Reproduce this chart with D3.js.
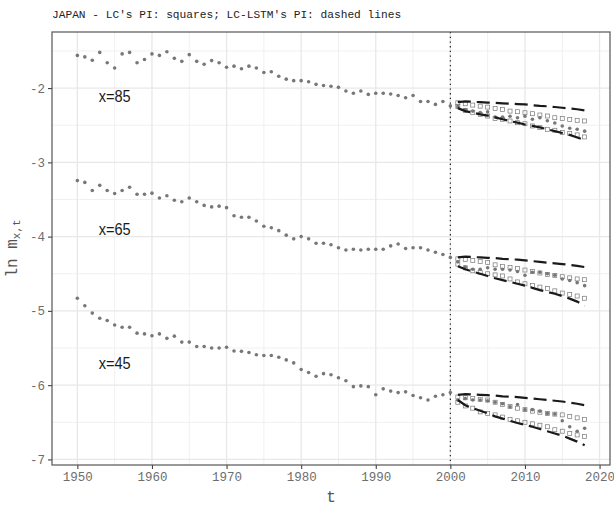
<!DOCTYPE html>
<html>
<head>
<meta charset="utf-8">
<script src="https://cdn.jsdelivr.net/npm/d3@7"></script>
<style>
  body { margin: 0; background: #fff; }
  svg { display: block; }
  .mono { font-family: "Liberation Mono", "DejaVu Sans Mono", monospace; }
</style>
</head>
<body>
<div id="chart"></div>
<script>
// observed years and forecast years
const obsYears = d3.range(1950, 2019);
const fcYears = d3.range(2001, 2019);

// ln m(x,t), 1950-2018
const obs85 = [-1.56, -1.58, -1.625, -1.52, -1.66, -1.73, -1.54, -1.52, -1.66, -1.615,
  -1.54, -1.56, -1.51, -1.60, -1.64, -1.55, -1.64, -1.68, -1.63, -1.66,
  -1.72, -1.705, -1.74, -1.705, -1.73, -1.79, -1.78, -1.84, -1.88, -1.90,
  -1.90, -1.915, -1.95, -1.965, -1.975, -1.99, -2.04, -2.07, -2.04, -2.085,
  -2.07, -2.07, -2.08, -2.10, -2.13, -2.10, -2.18, -2.18, -2.22, -2.18, -2.24,
  -2.25, -2.29, -2.31, -2.33, -2.32, -2.39, -2.39, -2.38, -2.40, -2.38,
  -2.42, -2.40, -2.44, -2.47, -2.51, -2.54, -2.555, -2.58];
const obs65 = [-3.246, -3.27, -3.38, -3.31, -3.38, -3.42, -3.38, -3.335, -3.43, -3.43,
  -3.415, -3.48, -3.45, -3.51, -3.53, -3.48, -3.53, -3.58, -3.60, -3.59,
  -3.61, -3.72, -3.74, -3.74, -3.79, -3.86, -3.88, -3.92, -3.98, -4.03,
  -4.00, -4.03, -4.09, -4.09, -4.11, -4.15, -4.18, -4.17, -4.18, -4.17,
  -4.17, -4.17, -4.125, -4.10, -4.16, -4.15, -4.15, -4.18, -4.21, -4.24, -4.28,
  -4.34, -4.41, -4.44, -4.44, -4.42, -4.44, -4.44, -4.45, -4.47, -4.52,
  -4.48, -4.48, -4.50, -4.52, -4.57, -4.59, -4.62, -4.66];
const obs45 = [-4.83, -4.93, -5.03, -5.10, -5.13, -5.19, -5.22, -5.22, -5.30, -5.31,
  -5.335, -5.31, -5.37, -5.34, -5.42, -5.42, -5.48, -5.48, -5.50, -5.50,
  -5.49, -5.54, -5.545, -5.56, -5.59, -5.60, -5.60, -5.625, -5.66, -5.70,
  -5.79, -5.83, -5.88, -5.845, -5.86, -5.90, -5.94, -6.02, -6.01, -6.02,
  -6.13, -6.05, -6.08, -6.10, -6.09, -6.14, -6.17, -6.20, -6.15, -6.13, -6.10,
  -6.20, -6.18, -6.20, -6.20, -6.21, -6.23, -6.25, -6.29, -6.26, -6.33,
  -6.33, -6.35, -6.38, -6.39, -6.48, -6.56, -6.62, -6.58];

// LC prediction intervals (squares), 2001-2018
const lcUp85 = [-2.198, -2.211, -2.229, -2.243, -2.256, -2.274, -2.287, -2.31, -2.318,
  -2.332, -2.345, -2.363, -2.376, -2.399, -2.408, -2.421, -2.434, -2.443];
const lcLo85 = [-2.25, -2.30, -2.33, -2.354, -2.376, -2.408, -2.42, -2.443, -2.466,
  -2.48, -2.51, -2.533, -2.555, -2.568, -2.60, -2.613, -2.63, -2.658];
const lcUp65 = [-4.30, -4.31, -4.32, -4.335, -4.35, -4.38, -4.40, -4.415, -4.43,
  -4.45, -4.47, -4.49, -4.51, -4.525, -4.54, -4.555, -4.57, -4.58];
const lcLo65 = [-4.37, -4.42, -4.46, -4.48, -4.50, -4.515, -4.53, -4.57, -4.61,
  -4.635, -4.66, -4.68, -4.70, -4.73, -4.76, -4.78, -4.80, -4.83];
const lcUp45 = [-6.16, -6.17, -6.18, -6.19, -6.20, -6.23, -6.26, -6.285, -6.31,
  -6.33, -6.35, -6.365, -6.38, -6.39, -6.40, -6.42, -6.44, -6.46];
const lcLo45 = [-6.23, -6.28, -6.31, -6.36, -6.38, -6.40, -6.43, -6.46, -6.48,
  -6.50, -6.52, -6.54, -6.56, -6.60, -6.62, -6.65, -6.67, -6.69];

// LC-LSTM prediction intervals (dashed lines), 2001-2018
const lstmUp85 = [-2.19, -2.18, -2.185, -2.19, -2.195, -2.20, -2.205, -2.21, -2.215,
  -2.22, -2.23, -2.24, -2.245, -2.255, -2.265, -2.275, -2.285, -2.30];
const lstmLo85 = [-2.27, -2.31, -2.33, -2.355, -2.37, -2.395, -2.42, -2.445, -2.465,
  -2.49, -2.51, -2.53, -2.555, -2.58, -2.605, -2.63, -2.665, -2.70];
const lstmUp65 = [-4.28, -4.27, -4.275, -4.28, -4.285, -4.29, -4.30, -4.305, -4.31,
  -4.32, -4.33, -4.34, -4.35, -4.36, -4.37, -4.38, -4.395, -4.41];
const lstmLo65 = [-4.40, -4.44, -4.47, -4.50, -4.53, -4.56, -4.585, -4.61, -4.635,
  -4.66, -4.69, -4.72, -4.745, -4.77, -4.80, -4.835, -4.875, -4.93];
const lstmUp45 = [-6.13, -6.12, -6.125, -6.13, -6.135, -6.14, -6.15, -6.155, -6.16,
  -6.17, -6.18, -6.19, -6.20, -6.21, -6.22, -6.235, -6.25, -6.27];
const lstmLo45 = [-6.20, -6.27, -6.31, -6.345, -6.38, -6.42, -6.45, -6.48, -6.51,
  -6.535, -6.56, -6.59, -6.62, -6.65, -6.68, -6.72, -6.76, -6.81];

const ages = ["x=85", "x=65", "x=45"];
const labelYears = [1955, 1955, 1955];
const labelValues = [-2.1, -3.9, -5.7];
const cutYear = 2000;

const xTicks = [1950, 1960, 1970, 1980, 1990, 2000, 2010, 2020];
const xMinor = [1955, 1965, 1975, 1985, 1995, 2005, 2015];
const yTicks = [-7, -6, -5, -4, -3, -2];
const yMinor = [-6.5, -5.5, -4.5, -3.5, -2.5, -1.5];

const groups = [
  {obs: obs85, lcUp: lcUp85, lcLo: lcLo85, lstmUp: lstmUp85, lstmLo: lstmLo85},
  {obs: obs65, lcUp: lcUp65, lcLo: lcLo65, lstmUp: lstmUp65, lstmLo: lstmLo65},
  {obs: obs45, lcUp: lcUp45, lcLo: lcLo45, lstmUp: lstmUp45, lstmLo: lstmLo45}
];

const W = 614, H = 507;
const panel = {left: 52, right: 610, top: 32, bottom: 465};

const svg = d3.select("#chart").append("svg")
  .attr("width", W).attr("height", H);

// ggplot-like 5% expansion
const allY = groups.flatMap(g => [...g.obs, ...g.lcUp, ...g.lcLo, ...g.lstmUp, ...g.lstmLo]);
const yExt = d3.extent(allY);
const yPad = (yExt[1] - yExt[0]) * 0.05;
const xExt = d3.extent(obsYears);
const xPad = (xExt[1] - xExt[0]) * 0.05;

const x = d3.scaleLinear()
  .domain([xExt[0] - xPad, xExt[1] + xPad])
  .range([panel.left, panel.right]);
const y = d3.scaleLinear()
  .domain([yExt[0] - yPad, yExt[1] + yPad])
  .range([panel.bottom, panel.top]);

// grid
const grid = svg.append("g");
grid.selectAll("line.minx").data(xMinor).join("line")
  .attr("x1", d => x(d)).attr("x2", d => x(d))
  .attr("y1", panel.top).attr("y2", panel.bottom)
  .attr("stroke", "#f0f0f0").attr("stroke-width", 1);
grid.selectAll("line.miny").data(yMinor).join("line")
  .attr("y1", d => y(d)).attr("y2", d => y(d))
  .attr("x1", panel.left).attr("x2", panel.right)
  .attr("stroke", "#f0f0f0").attr("stroke-width", 1);
grid.selectAll("line.majx").data(xTicks).join("line")
  .attr("x1", d => x(d)).attr("x2", d => x(d))
  .attr("y1", panel.top).attr("y2", panel.bottom)
  .attr("stroke", "#e8e8e8").attr("stroke-width", 1.3);
grid.selectAll("line.majy").data(yTicks).join("line")
  .attr("y1", d => y(d)).attr("y2", d => y(d))
  .attr("x1", panel.left).attr("x2", panel.right)
  .attr("stroke", "#e8e8e8").attr("stroke-width", 1.3);

// cut-off line
svg.append("line")
  .attr("x1", x(cutYear)).attr("x2", x(cutYear))
  .attr("y1", panel.top).attr("y2", panel.bottom)
  .attr("stroke", "#222").attr("stroke-width", 1.2)
  .attr("stroke-dasharray", "1.3,3.4");

const line = d3.line().x((d, i) => x(fcYears[i])).y(d => y(d));

groups.forEach(g => {
  // LC squares
  [g.lcUp, g.lcLo].forEach(arr => {
    svg.append("g").selectAll("rect").data(arr).join("rect")
      .attr("x", (d, i) => x(fcYears[i]) - 2)
      .attr("y", d => y(d) - 2)
      .attr("width", 4).attr("height", 4)
      .attr("fill", "none").attr("stroke", "#777").attr("stroke-width", 0.7);
  });
  // observed dots
  svg.append("g").selectAll("circle").data(g.obs).join("circle")
    .attr("cx", (d, i) => x(obsYears[i]))
    .attr("cy", d => y(d))
    .attr("r", 1.8)
    .attr("fill", "#777");
  // LC-LSTM dashed
  [g.lstmUp, g.lstmLo].forEach(arr => {
    svg.append("path").datum(arr)
      .attr("d", line)
      .attr("fill", "none").attr("stroke", "#1a1a1a")
      .attr("stroke-width", 2.2)
      .attr("stroke-dasharray", "13,6");
  });
});

// age labels
svg.append("g").selectAll("text").data(ages).join("text")
  .attr("x", (d, i) => x(labelYears[i]))
  .attr("y", (d, i) => y(labelValues[i]))
  .attr("dy", "0.36em")
  .attr("text-anchor", "middle")
  .attr("font-family", "Liberation Sans, Arial, sans-serif")
  .attr("font-size", 17)
  .attr("textLength", 32)
  .attr("lengthAdjust", "spacingAndGlyphs")
  .attr("fill", "#1a1a1a")
  .text(d => d);

// panel border
svg.append("rect")
  .attr("x", panel.left).attr("y", panel.top)
  .attr("width", panel.right - panel.left).attr("height", panel.bottom - panel.top)
  .attr("fill", "none").attr("stroke", "#555").attr("stroke-width", 1.2);

// axes
const xAxis = svg.append("g")
  .attr("transform", "translate(0," + panel.bottom + ")")
  .call(d3.axisBottom(x).tickValues(xTicks).tickFormat(d3.format("d")).tickSize(4).tickPadding(3));
const yAxis = svg.append("g")
  .attr("transform", "translate(" + panel.left + ",0)")
  .call(d3.axisLeft(y).tickValues(yTicks).tickFormat(d => d).tickSize(4).tickPadding(3));

[xAxis, yAxis].forEach(a => {
  a.select(".domain").remove();
  a.selectAll(".tick line").attr("stroke", "#444").attr("stroke-width", 1.1);
  a.selectAll(".tick text")
    .attr("class", "mono")
    .attr("font-size", 12.5)
    .attr("fill", "#6e6e6e");
});

// titles
svg.append("text")
  .attr("class", "mono")
  .attr("x", panel.left).attr("y", 18)
  .attr("font-size", 11.2)
  .attr("fill", "#222")
  .text("JAPAN - LC's PI: squares; LC-LSTM's PI: dashed lines");

svg.append("text")
  .attr("class", "mono")
  .attr("x", (panel.left + panel.right) / 2).attr("y", 502)
  .attr("text-anchor", "middle")
  .attr("font-size", 16)
  .attr("fill", "#555")
  .text("t");

const yt = svg.append("text")
  .attr("class", "mono")
  .attr("transform", "translate(17," + ((panel.top + panel.bottom) / 2) + ") rotate(-90)")
  .attr("text-anchor", "middle")
  .attr("font-size", 16)
  .attr("fill", "#555");
yt.append("tspan").text("ln m");
yt.append("tspan").attr("font-size", 11).attr("dy", 3).text("x,t");
</script>
</body>
</html>
